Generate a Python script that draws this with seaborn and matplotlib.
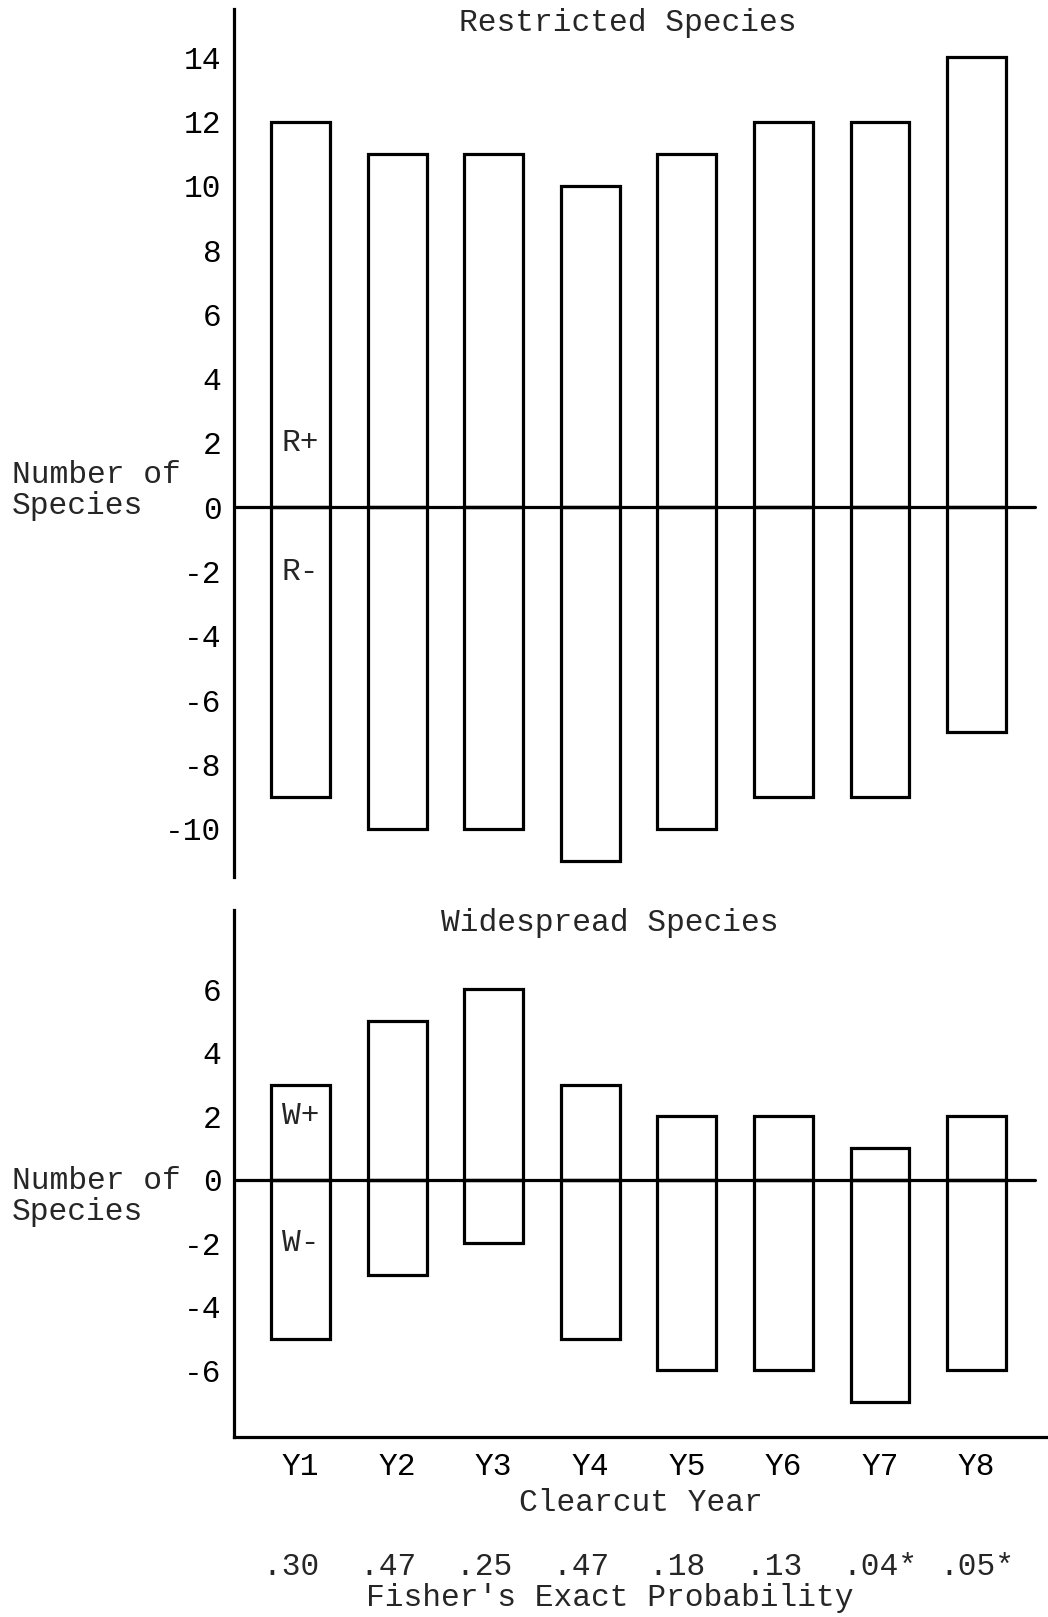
import matplotlib
matplotlib.use("Agg")
import matplotlib.pyplot as plt
import seaborn as sns

# Data
years = ["Y1", "Y2", "Y3", "Y4", "Y5", "Y6", "Y7", "Y8"]
restricted_plus = [12, 11, 11, 10, 11, 12, 12, 14]
restricted_minus = [-9, -10, -10, -11, -10, -9, -9, -7]
widespread_plus = [3, 5, 6, 3, 2, 2, 1, 2]
widespread_minus = [-5, -3, -2, -5, -6, -6, -7, -6]
fisher_p = [".30", ".47", ".25", ".47", ".18", ".13", ".04*", ".05*"]

sns.set_theme(style="white")
plt.rcParams["font.family"] = ["Liberation Mono", "DejaVu Sans Mono"]
FS = 22.5
LW = 2.3

fig = plt.figure(figsize=(10.48, 16.17), dpi=100)
W, H = 1048, 1617


def axes_box(left, top, right, bottom):
    return [left / W, 1 - bottom / H, (right - left) / W, (bottom - top) / H]


ax_top = fig.add_axes(axes_box(234, 9, 1048, 877))
ax_bot = fig.add_axes(axes_box(234, 910, 1048, 1437))

zero_end = (1035 - 234) / (1048 - 234)


def draw_panel(ax, plus, minus, ylim, yticks, tag):
    for vals in (plus, minus):
        sns.barplot(x=years, y=vals, ax=ax, fill=False, color="black",
                    width=0.61, linewidth=LW, errorbar=None)
    ax.set_xlim(-0.69, 7.74)
    ax.set_ylim(*ylim)
    ax.axhline(0, xmin=0, xmax=zero_end, color="black", lw=LW, zorder=5)
    ax.set_yticks(yticks)
    ax.set_yticklabels([str(t) for t in yticks], fontsize=FS)
    ax.tick_params(axis="y", length=0, pad=9, colors="black")
    for s in ("top", "right"):
        ax.spines[s].set_visible(False)
    ax.spines["left"].set_color("black")
    ax.spines["left"].set_linewidth(LW)
    ax.set_ylabel("")
    ax.text(0, 2, tag + "+", ha="center", va="center", fontsize=FS)
    ax.text(0, -2, tag + "-", ha="center", va="center", fontsize=FS)


draw_panel(ax_top, restricted_plus, restricted_minus, (-11.5, 15.5),
           list(range(-10, 15, 2)), "R")
ax_top.spines["bottom"].set_visible(False)
ax_top.set_xticks([])

draw_panel(ax_bot, widespread_plus, widespread_minus, (-8.1, 8.5),
           list(range(-6, 7, 2)), "W")
ax_bot.spines["bottom"].set_color("black")
ax_bot.spines["bottom"].set_linewidth(LW)
ax_bot.set_xticks(range(len(years)))
ax_bot.set_xticklabels(years, fontsize=FS)
ax_bot.tick_params(axis="x", length=0, pad=11, colors="black")
ax_bot.set_xlabel("Clearcut Year", fontsize=FS, labelpad=4)

# Fisher's exact probabilities under each year
for i, p in enumerate(fisher_p):
    label = p if p.endswith("*") else p + " "
    ax_bot.text(i, -8.1 - (1567 - 1437) / 31.8, label, ha="center", va="center",
                fontsize=FS)
fig.text(610 / W, 1 - 1598 / H, "Fisher's Exact Probability", ha="center",
         va="center", fontsize=FS)

# Panel titles
fig.text(628 / W, 1 - 23 / H, "Restricted Species", ha="center", va="center",
         fontsize=FS)
fig.text(610 / W, 1 - 923 / H, "Widespread Species", ha="center", va="center",
         fontsize=FS)

# Y axis titles
for y1, y2 in ((475, 506), (1181, 1212)):
    fig.text(12 / W, 1 - y1 / H, "Number of", ha="left", va="center", fontsize=FS)
    fig.text(12 / W, 1 - y2 / H, "Species", ha="left", va="center", fontsize=FS)

fig.savefig("out.png", dpi=100, facecolor="white")
